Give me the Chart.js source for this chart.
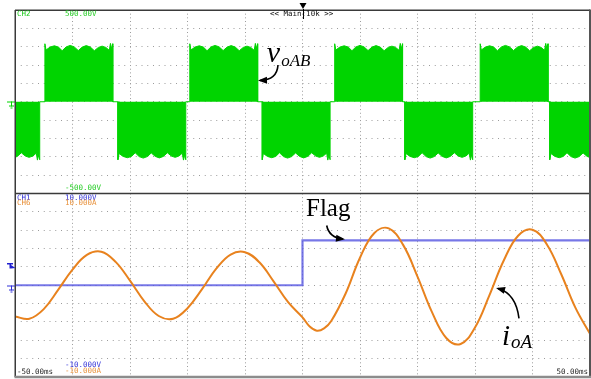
<!DOCTYPE html>
<html>
<head>
<meta charset="utf-8">
<script src="https://cdn.jsdelivr.net/npm/chart.js@4.4.1/dist/chart.umd.min.js"></script>
<style>
  html, body { margin: 0; padding: 0; background: #fff; }
  #wrap { position: relative; width: 591px; height: 379px; }
  #wrap canvas { position: absolute; left: 0; top: 0; }
</style>
</head>
<body>
<div id="wrap">
  <canvas id="cvVolt" width="591" height="379"></canvas>
  <canvas id="cvCurr" width="591" height="379"></canvas>
</div>
<script>
'use strict';

/*************** data ***************/

// time axis (ms), 10 ms/div
var timeMin = -50, timeMax = 50;

// CH2 : vOAB, PWM blocks -> start time (ms) and polarity
var vBlockStart = [-57.5, -44.8, -32.1, -19.6, -7.0, 5.6, 17.8, 30.9, 43.0];
var vBlockSign  = [-1, 1, -1, 1, -1, 1, -1, 1, -1];
// envelope of one block : offset from block start (ms) / level (V)
var vEnvOffset = [0, 0, 0.2, 0.9, 1.65, 2.35, 3.0, 3.7, 4.4, 5.1, 5.8, 6.5, 7.2, 7.9, 8.6, 9.3, 9.95, 10.6, 11.2, 11.4, 11.6, 11.8, 11.8];
var vEnvLevel  = [0, 316, 282, 298, 305, 298, 278, 299, 307, 299, 279, 298, 306, 298, 278, 296, 303, 296, 280, 318, 290, 316, 0];

// CH6 : ioA (A)
var iTime  = [-50, -47.5, -45, -42.5, -40, -37.5, -35, -32.5, -30, -27.5, -25, -22.5, -20, -17.5, -15, -12.5, -10, -7.5, -5, -2.5,
              0, 1.25, 2.5, 3.75, 5, 7.5, 10, 12.5, 15, 17.5, 20, 22.5, 25, 27.5, 30, 32.5, 35, 37.5, 40, 42.5, 45, 47.5, 50];
var iValue = [-3.4, -3.65, -2.6, -0.5, 1.7, 3.3, 3.65, 2.55, 0.5, -1.75, -3.35, -3.65, -2.5, -0.45, 1.8, 3.35, 3.6, 2.5, 0.4, -1.85,
              -3.5, -4.5, -4.95, -4.7, -3.9, -0.9, 3.0, 5.7, 6.2, 4.4, 0.95, -2.9, -5.75, -6.4, -4.6, -1.1, 2.7, 5.4, 6.05, 4.45, 1.2, -2.5, -5.3];

// CH1 : Flag (V)
var flagTime  = [-50, 0, 0, 50];
var flagValue = [0, 0, 4.9, 4.9];

// screen readouts
var voltRange = [-500, 500];
var currRange = [-10, 10];

var green = '#00d400';
var blue = 'rgba(85,85,225,0.8)';
var orange = '#e8821e';


/*************** build the point lists ***************/

var vPoints = [];
vBlockStart.forEach(function(t0, b) {
  for (var k = 0; k < vEnvOffset.length; k++) {
    vPoints.push({ x: t0 + vEnvOffset[k], y: vBlockSign[b] * vEnvLevel[k] });
  }
});

var iPoints = iTime.map(function(t, k) { return { x: t, y: iValue[k] }; });
var flagPoints = flagTime.map(function(t, k) { return { x: t, y: flagValue[k] }; });


/*************** helpers ***************/

function gridScale(min, max, step, dash) {
  return {
    type: 'linear', min: min, max: max,
    ticks: { display: false, stepSize: step },
    grid: { color: '#9c9c9c', lineWidth: 1, drawTicks: false },
    border: { display: false, dash: dash },
    afterFit: function(s) { if (s.isHorizontal()) { s.height = 0; } else { s.width = 0; } }
  };
}

function arrow(ctx, p0, pc, p1) {
  ctx.beginPath();
  ctx.moveTo(p0[0], p0[1]);
  ctx.quadraticCurveTo(pc[0], pc[1], p1[0], p1[1]);
  ctx.stroke();
  var a = Math.atan2(p1[1] - pc[1], p1[0] - pc[0]);
  var c = Math.cos(a), s = Math.sin(a);
  ctx.beginPath();
  ctx.moveTo(p1[0] + 2 * c, p1[1] + 2 * s);
  ctx.lineTo(p1[0] - 7 * c + 3.5 * s, p1[1] - 7 * s - 3.5 * c);
  ctx.lineTo(p1[0] - 7 * c - 3.5 * s, p1[1] - 7 * s + 3.5 * c);
  ctx.closePath();
  ctx.fill();
}

function px(chart, t, v) {
  return [chart.scales.x.getPixelForValue(t), chart.scales.y.getPixelForValue(v)];
}

function groundMark(ctx, y, col) {
  ctx.strokeStyle = col;
  ctx.lineWidth = 1;
  ctx.beginPath();
  ctx.moveTo(7, y + 0.5); ctx.lineTo(15, y + 0.5);
  ctx.moveTo(11.5, y); ctx.lineTo(11.5, y + 5);
  ctx.moveTo(9, y + 4.5); ctx.lineTo(14, y + 4.5);
  ctx.moveTo(10.5, y + 6.5); ctx.lineTo(12.5, y + 6.5);
  ctx.stroke();
}

function label(ctx, txt, x, y, col, align) {
  ctx.fillStyle = col;
  ctx.textAlign = align || 'left';
  ctx.fillText(txt, x, y);
}


/*************** top window : CH2 ***************/

var voltPlugin = {
  id: 'voltNotes',
  afterDatasetsDraw: function(chart) {
    var ctx = chart.ctx;
    ctx.save();
    ctx.fillStyle = '#000';
    ctx.strokeStyle = '#000';
    ctx.textBaseline = 'alphabetic';
    ctx.textAlign = 'left';
    var p = px(chart, -6.2, 218);
    ctx.font = 'italic 30px "Liberation Serif"';
    ctx.fillText('v', p[0], p[1]);
    var w = ctx.measureText('v').width;
    var q = px(chart, -6.2, 196);
    ctx.font = 'italic 17px "Liberation Serif"';
    ctx.fillText('oAB', p[0] + w + 1, q[1]);
    ctx.lineWidth = 1.6;
    arrow(ctx, px(chart, -4.26, 200), px(chart, -4.43, 118), px(chart, -7.39, 116));
    ctx.restore();
  }
};

var voltChart = new Chart(document.getElementById('cvVolt'), {
  type: 'line',
  data: {
    datasets: [{
      data: vPoints,
      borderColor: green,
      backgroundColor: green,
      borderWidth: 1,
      fill: 'origin',
      pointRadius: 0,
      tension: 0
    }]
  },
  options: {
    responsive: false,
    animation: false,
    devicePixelRatio: 1,
    layout: { padding: { left: 15, top: 10, right: 1, bottom: 185.5 } },
    plugins: { legend: { display: false }, tooltip: { enabled: false } },
    scales: {
      x: gridScale(timeMin, timeMax, 10, [1, 2.67]),
      y: gridScale(voltRange[0], voltRange[1], 100, [1, 4.75])
    }
  },
  plugins: [voltPlugin]
});


/*************** bottom window : CH1 / CH6 + screen frame ***************/

var screenPlugin = {
  id: 'screen',
  afterDraw: function(chart) {
    var ctx = chart.ctx;
    ctx.save();

    // frame
    ctx.strokeStyle = '#3a3a3a';
    ctx.lineWidth = 1.5;
    ctx.beginPath();
    ctx.moveTo(15.25, 10); ctx.lineTo(15.25, 377);
    ctx.moveTo(15, 10.25); ctx.lineTo(590, 10.25);
    ctx.moveTo(15, 193.5); ctx.lineTo(590, 193.5);
    ctx.stroke();
    ctx.strokeStyle = '#555';
    ctx.lineWidth = 2;
    ctx.beginPath();
    ctx.moveTo(590, 9.5); ctx.lineTo(590, 377);
    ctx.stroke();
    ctx.strokeStyle = '#8c8c8c';
    ctx.lineWidth = 2.5;
    ctx.beginPath();
    ctx.moveTo(14.5, 377); ctx.lineTo(591, 377);
    ctx.stroke();

    // trigger position marker
    ctx.fillStyle = '#000';
    ctx.beginPath();
    ctx.moveTo(299.5, 3); ctx.lineTo(306.5, 3); ctx.lineTo(303, 9);
    ctx.closePath();
    ctx.fill();
    ctx.strokeStyle = '#000';
    ctx.lineWidth = 1;
    ctx.beginPath();
    ctx.moveTo(303.5, 9); ctx.lineTo(303.5, 19);
    ctx.stroke();

    // ground / trigger level markers
    groundMark(ctx, 101.5, green);
    groundMark(ctx, 285.5, '#3030d8');
    ctx.fillStyle = '#2020d0';
    ctx.fillRect(7, 263, 6, 1.5);
    ctx.fillRect(9.5, 263, 1.5, 5.5);
    ctx.beginPath();
    ctx.moveTo(11, 265); ctx.lineTo(15.5, 268); ctx.lineTo(11, 268.5);
    ctx.closePath();
    ctx.fill();

    // readouts
    ctx.font = '7.5px "DejaVu Sans Mono"';
    ctx.textBaseline = 'middle';
    label(ctx, 'CH2', 17, 14.5, '#22cc22');
    label(ctx, voltRange[1].toFixed(2) + 'V', 65, 14.5, '#22cc22');
    label(ctx, voltRange[0].toFixed(2) + 'V', 65, 188.5, '#22cc22');
    label(ctx, '<< Main:10k >>', 270, 14.5, '#111');
    label(ctx, 'CH1', 17, 198, '#3030d8');
    label(ctx, currRange[1].toFixed(3) + 'V', 65, 198, '#3030d8');
    label(ctx, 'CH6', 17, 203.5, '#e8913a');
    label(ctx, currRange[1].toFixed(3) + 'A', 65, 203.5, '#e8913a');
    label(ctx, currRange[0].toFixed(3) + 'V', 65, 365.5, '#3030d8');
    label(ctx, currRange[0].toFixed(3) + 'A', 65, 371, '#e8913a');
    label(ctx, timeMin.toFixed(2) + 'ms', 17, 372.5, '#222');
    label(ctx, timeMax.toFixed(2) + 'ms', 588, 372.5, '#222', 'right');

    // annotations
    ctx.fillStyle = '#000';
    ctx.strokeStyle = '#000';
    ctx.textBaseline = 'alphabetic';
    ctx.textAlign = 'left';
    var f = px(chart, 0.61, 7.55);
    ctx.font = '25px "Liberation Serif"';
    ctx.fillText('Flag', f[0], f[1]);
    ctx.lineWidth = 1.6;
    arrow(ctx, px(chart, 4.21, 6.51), px(chart, 4.61, 5.2), px(chart, 7.04, 5.04));

    var i0 = px(chart, 34.7, -6.46);
    ctx.font = 'italic 29px "Liberation Serif"';
    ctx.fillText('i', i0[0], i0[1]);
    var wi = ctx.measureText('i').width;
    var i1 = px(chart, 34.7, -6.84);
    ctx.font = 'italic 19px "Liberation Serif"';
    ctx.fillText('oA', i0[0] + wi + 1, i1[1]);
    arrow(ctx, px(chart, 37.65, -3.62), px(chart, 37.13, -0.9), px(chart, 34.0, -0.35));

    ctx.restore();
  }
};

var currChart = new Chart(document.getElementById('cvCurr'), {
  type: 'line',
  data: {
    datasets: [{
      label: 'ioA',
      data: iPoints,
      borderColor: orange,
      borderWidth: 2,
      pointRadius: 0,
      fill: false,
      tension: 0.4
    }, {
      label: 'Flag',
      data: flagPoints,
      borderColor: blue,
      borderWidth: 2.2,
      pointRadius: 0,
      fill: false,
      tension: 0
    }]
  },
  options: {
    responsive: false,
    animation: false,
    devicePixelRatio: 1,
    layout: { padding: { left: 15, top: 193.5, right: 1, bottom: 2 } },
    plugins: { legend: { display: false }, tooltip: { enabled: false } },
    scales: {
      x: gridScale(timeMin, timeMax, 10, [1, 2.67]),
      y: gridScale(currRange[0], currRange[1], 2, [1, 4.75])
    }
  },
  plugins: [screenPlugin]
});
</script>
</body>
</html>
